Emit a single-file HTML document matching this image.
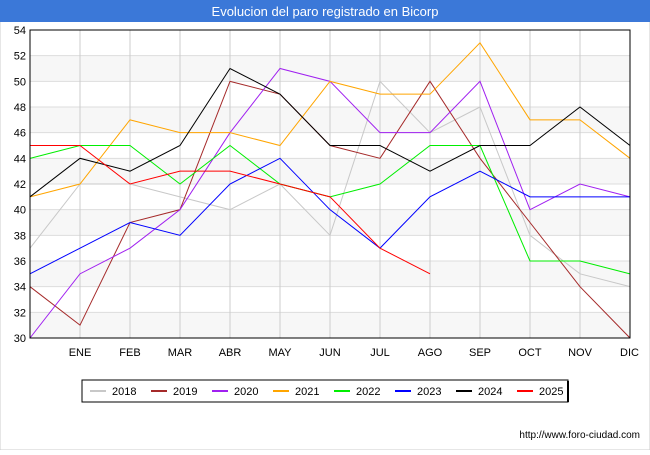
<!DOCTYPE html>
<html><head><meta charset="utf-8"><style>
body{margin:0;width:650px;height:450px;background:#fff;font-family:"Liberation Sans",sans-serif;overflow:hidden}
</style></head><body>
<svg width="650" height="450" id="chart">
<rect x="0" y="0" width="650" height="450" fill="#fff" stroke="#ccc"/>
<rect x="0" y="0" width="650" height="22" fill="#3b78d8"/>
<text x="325" y="16" text-anchor="middle" fill="#fff" font-size="13">Evolucion del paro registrado en Bicorp</text>
<g id="grid"></g><g id="series"></g><g id="axes"></g>
<text x="640" y="438" text-anchor="end" font-size="10" fill="#000">http://www.foro-ciudad.com</text>
<g id="legend"></g>
</svg>
<script>
const months=["","ENE","FEB","MAR","ABR","MAY","JUN","JUL","AGO","SEP","OCT","NOV","DIC"];
const yTicks=[30,32,34,36,38,40,42,44,46,48,50,52,54];
const years=["2018","2019","2020","2021","2022","2023","2024","2025"];
const colors=["#c8c8c8","#a52a2a","#a020f0","#ffa500","#00ee00","#0000ff","#000000","#ff0000"];
const s2018=[37,42,42,41,40,42,38,50,46,48,38,35,34];
const s2019=[34,31,39,40,50,49,45,44,50,44,39,34,30];
const s2020=[30,35,37,40,46,51,50,46,46,50,40,42,41];
const s2021=[41,42,47,46,46,45,50,49,49,53,47,47,44];
const s2022=[44,45,45,42,45,42,41,42,45,45,36,36,35];
const s2023=[35,37,39,38,42,44,40,37,41,43,41,41,41];
const s2024=[41,44,43,45,51,49,45,45,43,45,45,48,45];
const s2025=[45,45,42,43,43,42,41,37,35];
const allSeries=[s2018,s2019,s2020,s2021,s2022,s2023,s2024,s2025];
const X0=30,X1=630,Y0=30,Y1=338,ymin=30,ymax=54;
const xs=i=>X0+i*(X1-X0)/12;
const ys=v=>Y1-(v-ymin)*(Y1-Y0)/(ymax-ymin);
const NS="http://www.w3.org/2000/svg";
function mk(tag,attrs,parent){const e=document.createElementNS(NS,tag);for(const k in attrs)e.setAttribute(k,attrs[k]);parent.appendChild(e);return e;}
const grid=document.getElementById('grid'),axes=document.getElementById('axes'),ser=document.getElementById('series'),leg=document.getElementById('legend');
for(let i=0;i<yTicks.length-1;i++){
 if(i%2==0){const r=mk('rect',{x:X0,y:ys(yTicks[i+1]),width:X1-X0,height:ys(yTicks[i])-ys(yTicks[i+1]),fill:'#f7f7f7'},grid);
 
 }
}
yTicks.forEach(v=>{const l=mk('line',{x1:X0,x2:X1,y1:ys(v),y2:ys(v),stroke:'#ddd'},grid);


const t=mk('text',{x:X0-4,y:ys(v)+4,'text-anchor':'end','font-size':'11'},axes);t.textContent=v;

});
months.forEach((m,i)=>{if(i==0)return;const l=mk('line',{x1:xs(i),x2:xs(i),y1:Y0,y2:Y1,stroke:'#ccc'},grid);


const t=mk('text',{x:xs(i),y:Y1+18,'text-anchor':i==12?'end':'middle','font-size':'11'},axes);t.textContent=m;
if(i==12)t.setAttribute('x',xs(i)+9);

});
const fr=mk('rect',{x:X0,y:Y0,width:X1-X0,height:Y1-Y0,fill:'none',stroke:'#000'},axes);


allSeries.forEach((s,k)=>{const p=mk('polyline',{points:s.map((v,i)=>xs(i)+','+ys(v)).join(' '),fill:'none',stroke:colors[k],'stroke-width':1},ser);

});
const lb=mk('rect',{x:82,y:380,width:486,height:22,fill:'#fff',stroke:'#000'},leg);


mk('line',{x1:568,y1:381,x2:568,y2:402,stroke:'#000','stroke-width':2},leg);
years.forEach((y,k)=>{const g=mk('g',{},leg);


const x=90+k*61;mk('line',{x1:x,x2:x+16,y1:391,y2:391,stroke:colors[k],'stroke-width':2},g);
const t=mk('text',{x:x+22,y:395,'font-size':'11'},g);t.textContent=y;});
</script>
</body></html>
